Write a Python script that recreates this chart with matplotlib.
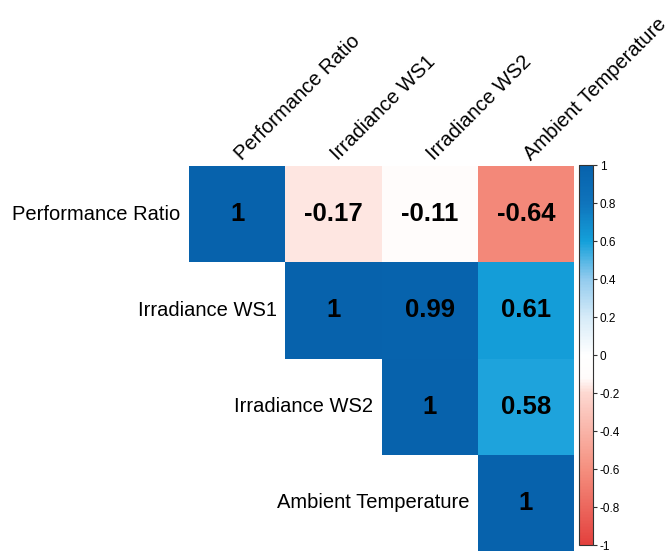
import numpy as np
import matplotlib
matplotlib.use("Agg")
import matplotlib.pyplot as plt
from matplotlib.colors import LinearSegmentedColormap

plt.rcParams['font.family'] = ['Liberation Sans', 'DejaVu Sans']

variables = ['Performance Ratio', 'Irradiance WS1', 'Irradiance WS2', 'Ambient Temperature']

# upper triangle of the correlation matrix (NaN = not drawn)
row_pr = [1.00, -0.17, -0.11, -0.64]
row_ws1 = [np.nan, 1.00, 0.99, 0.61]
row_ws2 = [np.nan, np.nan, 1.00, 0.58]
row_temp = [np.nan, np.nan, np.nan, 1.00]

corr = np.array([row_pr, row_ws1, row_ws2, row_temp])
n = len(variables)

# red - white - blue map, bright azure around 0.6 and dark blue at the top
cmap = LinearSegmentedColormap.from_list('corr', [
    (0.00, '#E3403D'),
    (0.20, '#F5907F'),
    (0.40, '#FDD8D1'),
    (0.44, '#FFFCFB'),
    (0.50, '#FFFFFF'),
    (0.60, '#D6EBF8'),
    (0.70, '#92CBEE'),
    (0.80, '#14A0DA'),
    (0.90, '#0F74BC'),
    (1.00, '#0762AC'),
])

fig = plt.figure(figsize=(6.70, 5.54), dpi=100)
W, H = 670, 554
ax = fig.add_axes([189 / W, 1 - 551 / H, 385 / W, 385 / H])

mesh = ax.pcolormesh(np.arange(n + 1), np.arange(n + 1), np.ma.masked_invalid(corr),
                     cmap=cmap, vmin=-1, vmax=1)
ax.set_xlim(0, n)
ax.set_ylim(n, 0)
ax.set_axis_off()

for i in range(n):
    for j in range(n):
        v = corr[i, j]
        if np.isnan(v):
            continue
        ax.text(j + 0.5, i + 0.5, f'{v:g}', ha='center', va='center',
                fontsize=18.5, fontweight='bold', color='black')

# row names sit just left of the diagonal cell
for i, name in enumerate(variables):
    ax.text(i - 0.09, i + 0.5, name, ha='right', va='center', fontsize=14.5)

# column names rotated above the top row
for j, name in enumerate(variables):
    ax.text(j + 0.58, -0.02, name, ha='left', va='bottom', rotation=45,
            rotation_mode='anchor', fontsize=14.5)

cax = fig.add_axes([579 / W, 1 - 545 / H, 14 / W, 380 / H])
cb = fig.colorbar(mesh, cax=cax, ticks=np.linspace(-1, 1, 11))
cb.ax.set_yticklabels([f'{t:g}' for t in np.round(np.linspace(-1, 1, 11), 1)])
cb.ax.tick_params(labelsize=8.5, length=3, width=0.8, color='#333333', pad=2)
cb.outline.set_edgecolor('#333333')
cb.outline.set_linewidth(0.8)

fig.savefig('out.png', dpi=100)
